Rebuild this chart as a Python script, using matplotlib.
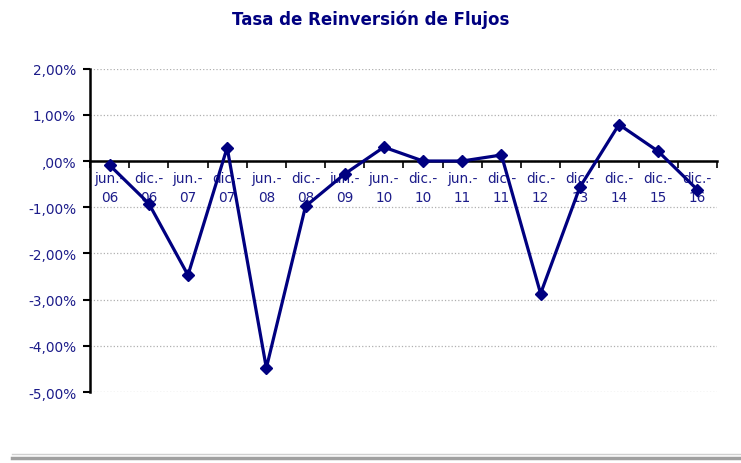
import numpy as np
import matplotlib.pyplot as plt
from matplotlib.ticker import FixedLocator, FuncFormatter

# data (percent)
periods = ['jun.-\n06', 'dic.-\n06', 'jun.-\n07', 'dic.-\n07', 'jun.-\n08', 'dic.-\n08',
           'jun.-\n09', 'jun.-\n10', 'dic.-\n10', 'jun.-\n11', 'dic.-\n11', 'dic.-\n12',
           'dic.-\n13', 'dic.-\n14', 'dic.-\n15', 'dic.-\n16']
tasa = [-0.09, -0.92, -2.47, 0.29, -4.48, -0.98, -0.28, 0.30,
        0.00, 0.00, 0.13, -2.87, -0.57, 0.79, 0.21, -0.62]
yticks = [2, 1, 0, -1, -2, -3, -4, -5]

navy = '#000080'
txt = '#1c1c8a'

fig = plt.figure(figsize=(7.41, 4.64), dpi=100)
ax = fig.add_axes([0.1215, 0.153, 0.846, 0.697])

x = np.arange(len(tasa)) + 0.5
ax.plot(x, tasa, color=navy, lw=2.3, marker='D', ms=6, zorder=3)

ax.set_xlim(0, len(tasa))
ax.set_ylim(-5, 2)

# y axis
ax.yaxis.set_major_locator(FixedLocator(yticks))
ax.yaxis.set_major_formatter(FuncFormatter(
    lambda v, p: ',00%' if v == 0 else ('%.2f%%' % v).replace('.', ',')))
ax.tick_params(axis='y', direction='out', length=5, width=1.5, color='black',
               labelcolor=txt, labelsize=9.8, pad=5)
ax.grid(axis='y', color='#b0b0b0', ls=':', lw=0.9)

# x axis at zero, ticks at category boundaries, labels at centres
ax.spines['bottom'].set_position(('data', 0))
ax.spines['bottom'].set_linewidth(1.8)
ax.spines['left'].set_linewidth(1.8)
ax.spines['top'].set_visible(False)
ax.spines['right'].set_visible(False)
ax.xaxis.set_major_locator(FixedLocator(np.arange(0, len(tasa) + 1)))
ax.xaxis.set_major_formatter(FuncFormatter(lambda v, p: ''))
ax.xaxis.set_minor_locator(FixedLocator(x))
ax.set_xticklabels(periods, minor=True)
ax.tick_params(axis='x', which='major', direction='out', length=5, width=1.2, color='black')
ax.tick_params(axis='x', which='minor', length=0, labelcolor=txt, labelsize=9.8, pad=7)
for lab in ax.get_xticklabels(minor=True):
    lab.set_linespacing(1.5)

fig.suptitle('Tasa de Reinversión de Flujos', x=0.5, y=0.978,
             fontsize=12, fontweight='bold', color=navy)

# frame line at the bottom of the picture
fig.add_artist(plt.Line2D([0.016, 1.0], [0.011, 0.011], color='#a0a0a0', lw=2.5))
fig.add_artist(plt.Line2D([0.016, 1.0], [0.019, 0.019], color='#d0d0d0', lw=1))

fig.savefig('out.png', dpi=100)
